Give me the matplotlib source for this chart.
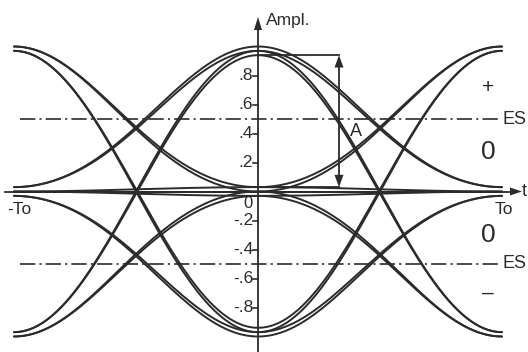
import itertools
import numpy as np
import matplotlib
matplotlib.use("Agg")
import matplotlib.pyplot as plt
from matplotlib import font_manager
from matplotlib.patches import Polygon

# ---------------- data ----------------
symbol_levels = [-1, 0, 1]            # ternary (AMI) symbol alphabet
isi_delta = 0.03                      # residual ISI at neighbouring sampling instants
mid_dip = 0.07                        # dip of pulse at half symbol period
decision_levels = [0.5, -0.5]         # ES thresholds
ytick_vals = [0.8, 0.6, 0.4, 0.2, -0.2, -0.4, -0.6, -0.8]
ytick_labels = [".8", ".6", ".4", ".2", "-.2", "-.4", "-.6", "-.8"]
eye_top, eye_bottom, eye_t = 0.94, 0.03, 0.332   # eye opening marker "A"
region_labels = ["+", "0", "0", "\u2013"]
region_vals = [0.72, 0.27, -0.30, -0.70]

# ---------------- figure setup (pixel mapping) ----------------
W, H = 528, 352
X0, PX_T = 258.0, 244.0     # pixel x of t=0, pixels per T0
Y0, PX_A = 191.5, 145.0     # pixel y of amplitude 0, pixels per unit


def tx(x):
    return (x - X0) / PX_T


def ay(y):
    return (Y0 - y) / PX_A


names = {f.name for f in font_manager.fontManager.ttflist}
FONT = "Liberation Sans" if "Liberation Sans" in names else "DejaVu Sans"
plt.rcParams["font.family"] = [FONT, "DejaVu Sans"]
plt.rcParams["lines.scale_dashes"] = False

fig = plt.figure(figsize=(W / 100, H / 100), dpi=100)
ax = fig.add_axes([0, 0, 1, 1])
ax.set_xlim(tx(0), tx(W))
ax.set_ylim(ay(H), ay(0))
ax.axis("off")

INK = "#2b2b2b"


def pulse(t):
    t = np.asarray(t, dtype=float)
    q = np.where(np.abs(t) <= 1,
                 np.cos(np.pi * t / 2) ** 2 - mid_dip * np.sin(np.pi * t) ** 2, 0.0)
    h = np.where(np.abs(t) <= 2, np.sin(np.pi * t / 2) ** 2, 0.0)
    return q + isi_delta * h


def ami_ok(seq):
    marks = [s for s in seq if s != 0]
    return all(marks[i] != marks[i + 1] for i in range(len(marks) - 1))


t = np.linspace(-1, 1, 801)
for seq in itertools.product(symbol_levels, repeat=3):
    if not ami_ok(seq):
        continue
    s = sum(a * pulse(t - k) for a, k in zip(seq, (-1, 0, 1)))
    ax.plot(t, s, color=INK, lw=1.4, solid_capstyle="round")

# decision thresholds (dash-dot)
for lvl in decision_levels:
    ax.plot([tx(20), tx(500)], [lvl, lvl], color=INK, lw=1.2,
            linestyle=(0, (11, 3, 1.5, 3)))
    ax.text(tx(526), lvl, "ES", fontsize=13, color=INK, ha="right", va="center")

# axes with arrows
ax.plot([tx(5), tx(512)], [0, 0], color=INK, lw=1.3)
ax.add_patch(Polygon([[tx(522), 0], [tx(510), ay(Y0 - 4)], [tx(510), ay(Y0 + 4)]],
                     closed=True, color=INK, lw=0))
ax.plot([0, 0], [ay(H), ay(28)], color=INK, lw=1.3)
ax.add_patch(Polygon([[0, ay(17)], [tx(X0 - 4), ay(30)], [tx(X0 + 4), ay(30)]],
                     closed=True, color=INK, lw=0))
ax.text(tx(266), ay(20), "Ampl.", fontsize=12.5, color=INK, ha="left", va="center")
ax.text(tx(527), 0, "t", fontsize=13, color=INK, ha="right", va="center")

# y ticks
for v, lab in zip(ytick_vals, ytick_labels):
    ax.plot([tx(253), 0], [v, v], color=INK, lw=1.2)
    ax.text(tx(253), v, lab, fontsize=12.5, color=INK, ha="right", va="center")
ax.text(tx(248), ay(196), "0", fontsize=12, color=INK, ha="center", va="top")

ax.text(tx(7), ay(209), "-To", fontsize=12.5, color=INK, ha="left", va="center")
ax.text(tx(495), ay(209), "To", fontsize=12.5, color=INK, ha="left", va="center")

# region labels
for lab, v in zip(region_labels, region_vals):
    fs = 19 if lab == "0" else 15
    ax.text(tx(488), v, lab, fontsize=fs, color=INK, ha="center", va="center")

# eye opening marker A
ax.plot([0, eye_t], [eye_top, eye_top], color=INK, lw=1.3)
ax.plot([0, eye_t], [eye_bottom, eye_bottom], color=INK, lw=1.3)
ax.plot([eye_t, eye_t], [eye_bottom + 0.08, eye_top - 0.08], color=INK, lw=1.3)
hw = 4.5 / PX_T
ax.add_patch(Polygon([[eye_t, eye_top], [eye_t - hw, eye_top - 0.085], [eye_t + hw, eye_top - 0.085]],
                     closed=True, color=INK, lw=0))
ax.add_patch(Polygon([[eye_t, eye_bottom], [eye_t - hw, eye_bottom + 0.085], [eye_t + hw, eye_bottom + 0.085]],
                     closed=True, color=INK, lw=0))
ax.text(tx(356), ay(131), "A", fontsize=13, color=INK, ha="center", va="center")

fig.savefig("out.png", dpi=100, facecolor="white")
